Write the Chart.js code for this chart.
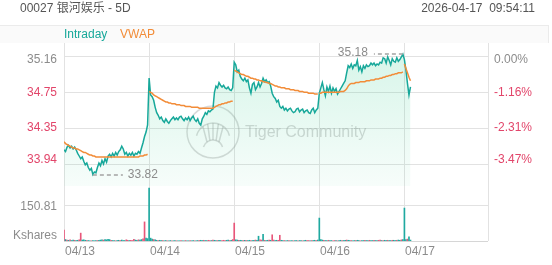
<!DOCTYPE html>
<html><head><meta charset="utf-8">
<script src="https://cdn.jsdelivr.net/npm/chart.js@4.4.1/dist/chart.umd.min.js"></script>
<style>
html,body{margin:0;padding:0;background:#fff;}
#wrap{position:relative;width:552px;height:265px;overflow:hidden;}
canvas{position:absolute;left:0;top:0;}
</style></head><body>
<div id="wrap"><canvas id="price" width="552" height="265"></canvas><canvas id="vol" width="552" height="265"></canvas></div>
<script>
const title = '00027 银河娱乐 - 5D';
const stamp = '2026-04-17  09:54:11';
const dayLabels = ['04/13','04/14','04/15','04/16','04/17'];
const seriesNames = ['Intraday','VWAP'];
const prevClose = 35.16;
const priceTicks = [35.16, 34.75, 34.35, 33.94];
const pctTicks = ['0.00%','-1.16%','-2.31%','-3.47%'];
const volTick = 150.81;
const volUnit = 'Kshares';
const perDay = 56;

const day1Price = [34.10,34.08,34.13,34.15,34.12,34.14,34.11,34.13,34.10,34.06,34.03,34.00,34.02,33.97,33.93,33.95,33.90,33.87,33.89,33.82,33.85,33.84,33.90,33.95,33.92,33.98,33.94,34.00,33.96,34.03,34.05,34.02,34.06,34.03,34.07,34.04,34.08,34.10,34.14,34.11,34.05,34.07,34.03,34.06,34.04,34.07,34.03,34.06,34.05,34.08,34.06,34.12,34.18,34.25,34.30,34.38];
const day2Price = [34.91,34.72,34.70,34.66,34.58,34.52,34.49,34.45,34.47,34.43,34.41,34.45,34.42,34.40,34.43,34.45,34.47,34.44,34.46,34.44,34.47,34.48,34.45,34.43,34.46,34.44,34.47,34.43,34.46,34.48,34.44,34.42,34.45,34.40,34.38,34.45,34.48,34.52,34.50,34.54,34.53,34.55,34.56,34.75,34.82,34.80,34.86,34.83,34.81,34.83,34.80,34.79,34.81,34.78,34.77,34.80];
const day3Price = [35.09,35.06,34.98,35.00,34.93,34.90,34.88,34.91,34.87,34.89,34.80,34.74,34.84,34.86,34.78,34.81,34.86,34.81,34.85,34.91,34.87,34.89,34.86,34.87,34.82,34.74,34.70,34.68,34.64,34.66,34.59,34.57,34.59,34.55,34.57,34.54,34.56,34.57,34.54,34.52,34.53,34.56,34.57,34.53,34.55,34.56,34.52,34.54,34.55,34.52,34.51,34.55,34.57,34.52,34.55,34.57];
const day4Price = [34.74,34.80,34.86,34.78,34.71,34.81,34.76,34.82,34.74,34.80,34.76,34.79,34.73,34.76,34.79,34.82,34.85,34.88,34.97,35.05,35.03,35.07,35.02,35.06,35.05,35.11,35.00,35.04,34.98,35.05,35.02,35.06,35.04,35.05,35.08,35.06,35.08,35.05,35.07,35.06,35.09,35.08,35.14,35.13,35.08,35.15,35.11,35.06,35.13,35.10,35.09,35.14,35.10,35.12,35.15,35.18];
const day5Price = [35.12,35.00,34.85,34.72,34.81];

const day1Vwap = [34.19,34.17,34.16,34.15,34.14,34.13,34.12,34.12,34.11,34.11,34.10,34.09,34.08,34.07,34.07,34.06,34.05,34.04,34.04,34.03,34.03,34.02,34.02,34.02,34.02,34.02,34.02,34.02,34.02,34.02,34.02,34.02,34.02,34.02,34.02,34.02,34.02,34.02,34.02,34.02,34.02,34.02,34.02,34.02,34.02,34.02,34.02,34.02,34.02,34.02,34.03,34.03,34.03,34.04,34.04,34.05];
const day2Vwap = [34.76,34.75,34.74,34.72,34.71,34.70,34.69,34.68,34.67,34.66,34.65,34.64,34.64,34.63,34.63,34.62,34.62,34.62,34.61,34.61,34.61,34.60,34.60,34.60,34.59,34.59,34.59,34.59,34.58,34.58,34.58,34.58,34.58,34.57,34.57,34.57,34.57,34.57,34.57,34.57,34.57,34.57,34.57,34.58,34.59,34.60,34.61,34.61,34.62,34.62,34.63,34.63,34.64,34.64,34.65,34.65];
const day3Vwap = [35.00,34.99,34.98,34.97,34.96,34.95,34.95,34.94,34.93,34.93,34.92,34.91,34.91,34.90,34.90,34.89,34.89,34.88,34.88,34.87,34.87,34.86,34.86,34.85,34.85,34.84,34.83,34.82,34.82,34.81,34.81,34.80,34.80,34.80,34.79,34.79,34.79,34.78,34.78,34.78,34.77,34.77,34.77,34.76,34.76,34.76,34.75,34.75,34.75,34.74,34.74,34.74,34.74,34.73,34.73,34.73];
const day4Vwap = [34.74,34.74,34.75,34.75,34.75,34.75,34.75,34.75,34.75,34.75,34.75,34.75,34.75,34.75,34.76,34.76,34.76,34.77,34.79,34.82,34.84,34.85,34.85,34.85,34.86,34.86,34.86,34.87,34.87,34.87,34.87,34.88,34.88,34.88,34.89,34.89,34.89,34.90,34.90,34.90,34.91,34.91,34.92,34.92,34.93,34.93,34.94,34.94,34.95,34.95,34.96,34.96,34.97,34.97,34.97,34.98];
const day5Vwap = [35.07,35.02,34.97,34.92,34.88];

const day1Vol = [46,6,4,3,5,2,4,3,2,3,5,33,4,5,3,2,2,1,1,2,1,2,2,3,4,5,4,6,5,7,6,3,2,2,1,2,3,2,4,2,2,5,3,2,3,2,7,4,3,5,4,6,9,80,12,10];
const day2Vol = [222,12,8,6,5,3,2,3,2,2,1,2,1,1,2,1,1,2,1,1,1,2,1,1,2,1,1,2,1,2,1,1,2,2,3,2,3,2,2,3,2,2,4,3,2,2,3,2,2,3,2,3,4,2,3,6];
const day3Vol = [75,5,4,3,3,2,2,3,2,2,3,2,2,3,4,3,20,5,4,28,3,2,3,4,3,26,4,2,3,3,24,3,2,2,1,2,2,1,2,1,2,2,1,2,2,1,2,3,2,2,1,2,2,3,2,4];
const day4Vol = [96,6,4,3,2,2,3,2,2,1,2,2,1,2,3,2,2,3,4,3,2,2,1,2,2,3,2,1,2,2,3,2,2,3,2,2,3,2,2,3,4,2,2,3,2,3,2,2,3,3,2,3,4,3,5,6];
const day5Vol = [138,6,8,17,4];

const day1Dir = 'udududdudd'+'uuddduddud'+'dduddduddd'+'dudduddudd'+'duuduuuddu'+'dduudd';
const day2Dir = 'd'+'ddudduddud'+'dudduddudd'+'uddudduddu'+'dduddudduu'+'duddudduuu'+'ddudu';
const day3Dir = 'udduddudud'+'duddudduud'+'udduduuddu'+'uddudduddu'+'dduddudduu'+'duddud';
const day4Dir = 'd'+'dduddudduu'+'dudduddudd'+'uddudduddu'+'dduddudduu'+'dudduddudd'+'uddud';
const day5Dir = 'ddudd';

const prices = [day1Price, day2Price, day3Price, day4Price, day5Price];
const vwaps = [day1Vwap, day2Vwap, day3Vwap, day4Vwap, day5Vwap];
const vols = [day1Vol, day2Vol, day3Vol, day4Vol, day5Vol];
const dirs = [day1Dir, day2Dir, day3Dir, day4Dir, day5Dir];

const FONT = '"Liberation Sans", Arial, "Noto Sans CJK SC", sans-serif';
const GRAY = '#8c8c8c', RED = '#e2456a', GRID = '#e2e2e2';
const TEAL = '#17a89a', ORANGE = '#f28c38';
const UPC = '#e8567a', DNC = '#1fa9a0';

const pricePts = [], vwapPts = [], volPts = [], volColors = [];
prices.forEach((arr, d) => arr.forEach((v, i) => pricePts.push({x: d*perDay + i, y: v})));
vwaps.forEach((arr, d) => {
  if (d > 0) vwapPts.push({x: d*perDay - 0.5, y: null});
  arr.forEach((v, i) => vwapPts.push({x: d*perDay + i, y: v}));
});
vols.forEach((arr, d) => arr.forEach((v, i) => {
  volPts.push({x: d*perDay + i, y: v});
  volColors.push(dirs[d][i] === 'u' ? UPC : DNC);
}));

const xMax = 5*perDay - 1;
let hi = pricePts[0], lo = pricePts[0];
pricePts.forEach(p => { if (p.y > hi.y) hi = p; if (p.y < lo.y) lo = p; });

const pricePlugin = {
  id: 'priceDeco',
  beforeDraw(chart) {
    const {ctx} = chart;
    ctx.save();
    ctx.fillStyle = '#fff'; ctx.fillRect(0, 0, chart.width, chart.height);
    ctx.font = '12px ' + FONT; ctx.textBaseline = 'middle';
    ctx.fillStyle = '#555';
    ctx.textAlign = 'left'; ctx.fillText(title, 20, 9);
    ctx.textAlign = 'right'; ctx.fillText(stamp, 535, 9);
    ctx.fillStyle = '#fafafa'; ctx.fillRect(0, 25, 549, 18);
    ctx.strokeStyle = '#ebebeb'; ctx.lineWidth = 1;
    ctx.beginPath(); ctx.moveTo(0, 25.5); ctx.lineTo(549, 25.5); ctx.moveTo(548.5, 25); ctx.lineTo(548.5, 43); ctx.stroke();
    ctx.textAlign = 'left';
    ctx.fillStyle = TEAL; ctx.fillText(chart.data.datasets[1].label, 64, 34.5);
    ctx.fillStyle = ORANGE; ctx.fillText(chart.data.datasets[0].label, 120, 34.5);
    ctx.restore();
  },
  beforeDatasetsDraw(chart) {
    const {ctx, chartArea: a, scales: {x, y}} = chart;
    ctx.save();
    ctx.strokeStyle = GRID; ctx.lineWidth = 1;
    ctx.beginPath();
    priceTicks.forEach(v => { const py = Math.round(y.getPixelForValue(v)) + 0.5; ctx.moveTo(a.left, py); ctx.lineTo(a.right, py); });
    for (let d = 0; d < 5; d++) { const px = Math.round(x.getPixelForValue(d*perDay)) + 0.5; ctx.moveTo(px, 43); ctx.lineTo(px, 241); }
    ctx.moveTo(a.right + 0.5, 43); ctx.lineTo(a.right + 0.5, 241);
    ctx.stroke();
    // watermark
    ctx.strokeStyle = 'rgba(150,150,150,0.35)'; ctx.lineWidth = 1.5;
    ctx.beginPath(); ctx.arc(213, 132, 26, 0, Math.PI*2); ctx.stroke();
    ctx.beginPath(); ctx.arc(213, 140, 17, Math.PI*1.08, Math.PI*1.92); ctx.stroke();
    ctx.beginPath(); ctx.arc(213, 150, 10, Math.PI*1.1, Math.PI*1.9); ctx.stroke();
    for (let k = -2; k <= 2; k++) {
      const ang = Math.PI*1.5 + k*0.32;
      ctx.beginPath();
      ctx.moveTo(213 + Math.cos(ang)*10, 150 + Math.sin(ang)*10);
      ctx.lineTo(213 + Math.cos(ang)*17, 140 + Math.sin(ang)*17);
      ctx.stroke();
    }
    ctx.font = '16px ' + FONT; ctx.fillStyle = 'rgba(150,150,150,0.38)';
    ctx.textAlign = 'left'; ctx.textBaseline = 'middle';
    ctx.fillText('Tiger Community', 245, 133);
    // axis labels
    ctx.font = '12px ' + FONT;
    priceTicks.forEach((v, i) => {
      let py = y.getPixelForValue(v);
      if (i === 0) py += 4; else if (i === priceTicks.length - 1) py -= 4;
      ctx.fillStyle = v >= prevClose ? GRAY : RED;
      ctx.textAlign = 'right'; ctx.fillText(v.toFixed(2), 57, py);
      ctx.textAlign = 'left'; ctx.fillText(pctTicks[i], 494, py);
    });
    ctx.fillStyle = GRAY; ctx.textAlign = 'left';
    dayLabels.forEach((t, d) => ctx.fillText(t, Math.round(x.getPixelForValue(d*perDay)) + 1, 251.5));
    ctx.restore();
  },
  afterDatasetsDraw(chart) {
    const {ctx, scales: {x, y}} = chart;
    ctx.save();
    ctx.font = '12px ' + FONT; ctx.textBaseline = 'middle'; ctx.fillStyle = GRAY;
    ctx.strokeStyle = '#a3a3a3'; ctx.lineWidth = 1.5; ctx.setLineDash([4, 3]);
    const hx = x.getPixelForValue(hi.x), hy = Math.round(y.getPixelForValue(hi.y));
    ctx.beginPath(); ctx.moveTo(hx, hy); ctx.lineTo(hx - 29, hy); ctx.stroke();
    ctx.textAlign = 'right'; ctx.fillText(hi.y.toFixed(2), hx - 35, hy - 1);
    const lx = x.getPixelForValue(lo.x), ly = Math.round(y.getPixelForValue(lo.y));
    ctx.beginPath(); ctx.moveTo(lx, ly); ctx.lineTo(lx + 30, ly); ctx.stroke();
    ctx.textAlign = 'left'; ctx.fillText(lo.y.toFixed(2), lx + 35, ly);
    ctx.restore();
  }
};

new Chart(document.getElementById('price'), {
  type: 'line',
  data: { datasets: [
    { label: seriesNames[1], data: vwapPts, borderColor: ORANGE, borderWidth: 1.5, pointRadius: 0, fill: false, spanGaps: false, order: 0, tension: 0 },
    { label: seriesNames[0], data: pricePts, borderColor: TEAL, borderWidth: 1.5, pointRadius: 0, order: 1, tension: 0,
      fill: 'start',
      backgroundColor(c) {
        const {ctx, chartArea} = c.chart;
        if (!chartArea) return 'rgba(46,204,140,0.1)';
        const g = ctx.createLinearGradient(0, chartArea.top, 0, chartArea.bottom);
        g.addColorStop(0, 'rgba(46,204,140,0.20)');
        g.addColorStop(1, 'rgba(46,204,140,0.04)');
        return g;
      } }
  ]},
  options: {
    responsive: false, animation: false, devicePixelRatio: 1,
    layout: { padding: { left: 64, right: 64, top: 43, bottom: 79 } },
    scales: {
      x: { type: 'linear', min: 0, max: xMax, display: false, offset: false },
      y: { type: 'linear', min: 33.691, max: 35.307, display: false }
    },
    plugins: { legend: { display: false }, tooltip: { enabled: false } },
    events: []
  },
  plugins: [pricePlugin]
});

const volPlugin = {
  id: 'volDeco',
  beforeDatasetsDraw(chart) {
    const {ctx, chartArea: a, scales: {y}} = chart;
    ctx.save();
    ctx.strokeStyle = GRID; ctx.lineWidth = 1;
    const gy = Math.round(y.getPixelForValue(volTick)) + 0.5;
    ctx.beginPath(); ctx.moveTo(a.left, gy); ctx.lineTo(a.right, gy); ctx.stroke();
    ctx.strokeStyle = '#d6d6d6';
    ctx.beginPath(); ctx.moveTo(a.left, Math.round(a.bottom) + 0.5); ctx.lineTo(a.right, Math.round(a.bottom) + 0.5); ctx.stroke();
    ctx.font = '12px ' + FONT; ctx.fillStyle = GRAY; ctx.textAlign = 'right'; ctx.textBaseline = 'middle';
    ctx.fillText(volTick.toFixed(2), 57, gy + 1.5);
    ctx.fillText(volUnit, 57, 235.5);
    ctx.restore();
  }
};

new Chart(document.getElementById('vol'), {
  type: 'bar',
  data: { datasets: [ { data: volPts, backgroundColor: volColors, barThickness: 1, borderWidth: 0 } ] },
  options: {
    responsive: false, animation: false, devicePixelRatio: 1,
    layout: { padding: { left: 64, right: 64, top: 187, bottom: 24 } },
    scales: {
      x: { type: 'linear', min: 0, max: xMax, display: false, offset: false, grid: { offset: false } },
      y: { min: 0, max: volTick * 1.5, display: false }
    },
    plugins: { legend: { display: false }, tooltip: { enabled: false } },
    events: []
  },
  plugins: [volPlugin]
});
</script>
</body></html>
